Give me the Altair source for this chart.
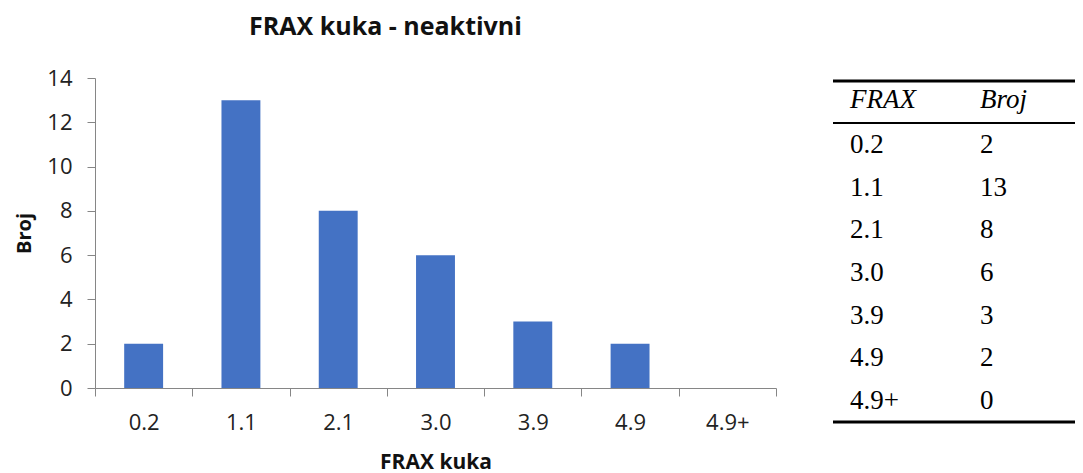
import altair as alt
import pandas as pd

categories = ["0.2", "1.1", "2.1", "3.0", "3.9", "4.9", "4.9+"]
counts = [2, 13, 8, 6, 3, 2, 0]
table_header = ["FRAX", "Broj"]

title_text = "FRAX kuka - neaktivni"
x_title = "FRAX kuka"
y_title = "Broj"

df = pd.DataFrame({"frax": categories, "broj": counts})
tdf = pd.DataFrame({"frax": categories, "broj": [str(c) for c in counts], "row": list(range(len(categories)))})

W, H = 681, 310
SANS = "Open Sans"
SERIF = "Liberation Serif"
AX = "#868686"

bars = alt.Chart(df).mark_bar(
    color="#4472C4", width=alt.RelativeBandSize(0.4)
).encode(
    x=alt.X("frax:N", sort=categories,
            scale=alt.Scale(paddingInner=0, paddingOuter=0),
            axis=alt.Axis(title=x_title, labelAngle=0, tickBand="extent",
                          labelFont=SANS, labelFontSize=22, labelColor="#222",
                          labelPadding=16, tickSize=8, tickColor=AX, domainColor=AX,
                          titleFont=SANS, titleFontSize=21, titleFontWeight="bold",
                          titleColor="#111", titleY=80, titleBaseline="alphabetic")),
    y=alt.Y("broj:Q", scale=alt.Scale(domain=[0, 14]),
            axis=alt.Axis(title=y_title, values=list(range(0, 15, 2)), grid=False,
                          labelFont=SANS, labelFontSize=22, labelColor="#222",
                          labelPadding=15, tickSize=8, tickColor=AX, domainColor=AX,
                          titleFont=SANS, titleFontSize=20, titleFontWeight="bold",
                          titleColor="#111", titleX=-65, titleBaseline="alphabetic")),
)

row_scale = alt.Scale(domain=[0, 6], range=[75, 331])

col1 = alt.Chart(tdf).mark_text(align="left", baseline="alphabetic", font=SERIF, fontSize=27, color="#000").encode(
    x=alt.value(755), y=alt.Y("row:Q", scale=row_scale, axis=None), text="frax:N")
col2 = alt.Chart(tdf).mark_text(align="left", baseline="alphabetic", font=SERIF, fontSize=27, color="#000").encode(
    x=alt.value(885), y=alt.Y("row:Q", scale=row_scale, axis=None), text="broj:N")

hdf = pd.DataFrame({"h": table_header, "xpos": [755, 885]})
header = alt.Chart(hdf).mark_text(align="left", baseline="alphabetic", font=SERIF, fontSize=27,
                                   fontStyle="italic", color="#000").encode(
    x=alt.X("xpos:Q", scale=None, axis=None), y=alt.value(30), text="h:N")

one = alt.Data(values=[{"k": 1}])
top_line = alt.Chart(one).mark_rule(color="#000", strokeWidth=3).encode(
    x=alt.value(738), x2=alt.value(990), y=alt.value(3))
mid_line = alt.Chart(one).mark_rule(color="#000", strokeWidth=2).encode(
    x=alt.value(738), x2=alt.value(990), y=alt.value(45))
bot_line = alt.Chart(one).mark_rule(color="#000", strokeWidth=3).encode(
    x=alt.value(738), x2=alt.value(990), y=alt.value(344))

chart = alt.layer(bars, col1, col2, header, top_line, mid_line, bot_line).resolve_scale(
    y="independent", x="independent"
).properties(
    width=W, height=H,
    background="white",
    title=alt.TitleParams(title_text, font=SANS, fontSize=25, fontWeight="bold", color="#111",
                          anchor="middle", dx=-50, offset=27),
    autosize=alt.AutoSizeParams(type="none"),
    padding={"left": 87, "top": 70, "right": 299, "bottom": 85},
).configure_view(stroke=None, strokeWidth=0)

chart.save("out.html", embed_options={"renderer": "svg", "actions": False})
